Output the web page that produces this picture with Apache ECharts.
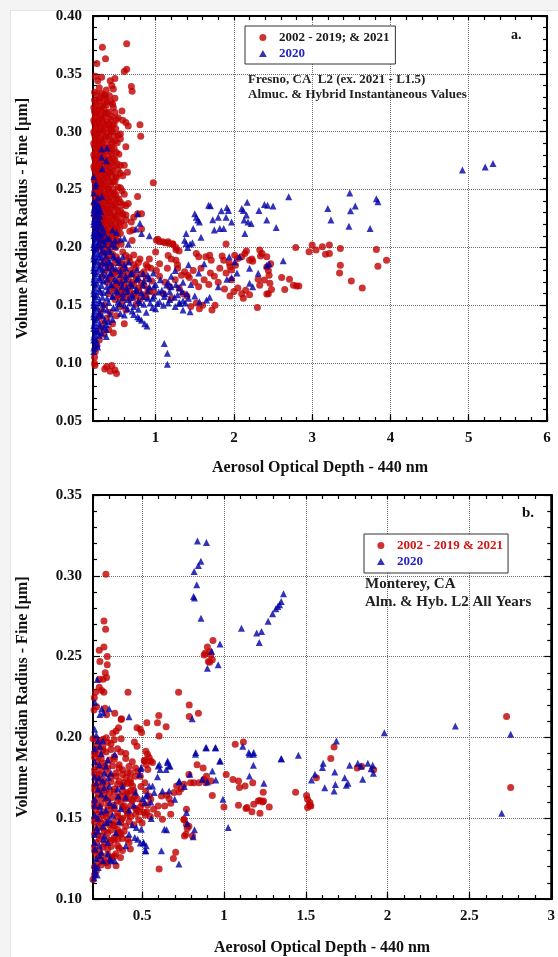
<!DOCTYPE html>
<html><head><meta charset="utf-8">
<script src="https://cdn.jsdelivr.net/npm/echarts@6/dist/echarts.min.js"></script>
<style>
html,body{margin:0;padding:0;background:#f4f4f4;width:558px;height:957px;overflow:hidden;}
#panel{position:absolute;left:10px;top:10px;width:548px;height:947px;background:#fff;border-left:1px solid #e4e4e4;border-top:1px solid #e4e4e4;}
#chart{position:absolute;left:0;top:0;width:558px;height:957px;}
</style></head><body><div id="panel"></div><div id="chart"></div>
<script>
// ---------- tick labels ----------
const fresnoXTicks = [1, 2, 3, 4, 5, 6];
const fresnoYTicks = [0.05, 0.10, 0.15, 0.20, 0.25, 0.30, 0.35, 0.40];
const montereyXTicks = [0.5, 1, 1.5, 2, 2.5, 3];
const montereyYTicks = [0.10, 0.15, 0.20, 0.25, 0.30, 0.35];

// ---------- series names ----------
const fresnoRedName = '2002 - 2019; & 2021';
const montereyRedName = '2002 - 2019 & 2021';
const blueName = '2020';

// ---------- Fresno (a.) 2002-2019 & 2021 ----------
const fresnoRed = [
[0.32,0.373],[0.63,0.376],[0.36,0.363],[0.25,0.359],[0.60,0.352],[0.63,0.354],[0.48,0.346],[0.26,0.344],[0.42,0.344],[0.44,0.340],[0.46,0.337],[0.69,0.339],[0.70,0.335],[0.23,0.348],[0.31,0.347],[0.28,0.338],[0.37,0.336],[0.34,0.332],[0.22,0.334],[0.41,0.331],[0.48,0.329],[0.29,0.329],[0.38,0.326],[0.45,0.324],[0.24,0.326],[0.33,0.323],[0.58,0.310],[0.62,0.308],[0.65,0.305],[0.80,0.306],[0.81,0.296],[0.55,0.294],[0.62,0.287],[0.60,0.271],[0.64,0.265],[0.97,0.256],[0.77,0.244],[0.57,0.318],[0.52,0.312],
[0.21,0.321],[0.27,0.319],[0.34,0.320],[0.40,0.317],
[0.23,0.315],[0.30,0.314],[0.36,0.316],[0.44,0.313],
[0.21,0.310],[0.26,0.309],[0.32,0.311],[0.39,0.308],[0.47,0.307],
[0.24,0.305],[0.29,0.304],[0.35,0.306],[0.42,0.303],
[0.21,0.300],[0.27,0.299],[0.33,0.301],[0.38,0.298],[0.45,0.300],[0.52,0.297],
[0.23,0.295],[0.30,0.294],[0.36,0.296],[0.41,0.293],[0.48,0.292],
[0.21,0.290],[0.26,0.289],[0.32,0.291],[0.38,0.288],[0.44,0.287],
[0.24,0.285],[0.29,0.284],[0.35,0.286],[0.42,0.283],[0.50,0.282],
[0.21,0.280],[0.27,0.279],[0.33,0.281],[0.39,0.278],[0.46,0.277],
[0.23,0.275],[0.30,0.274],[0.36,0.276],[0.43,0.273],[0.51,0.272],
[0.21,0.270],[0.26,0.269],[0.32,0.268],[0.38,0.270],[0.45,0.267],
[0.24,0.265],[0.29,0.264],[0.35,0.263],[0.41,0.265],[0.49,0.262],[0.55,0.264],
[0.22,0.260],[0.27,0.259],[0.33,0.258],[0.39,0.260],[0.46,0.257],
[0.25,0.255],[0.30,0.254],[0.36,0.253],[0.43,0.255],[0.52,0.252],
[0.23,0.250],[0.28,0.249],[0.34,0.248],[0.40,0.250],[0.47,0.247],[0.57,0.249],
[0.26,0.245],[0.31,0.244],[0.37,0.243],[0.44,0.245],[0.50,0.242],
[0.24,0.240],[0.29,0.239],[0.35,0.238],[0.41,0.240],[0.48,0.237],[0.55,0.239],[0.62,0.236],
[0.27,0.235],[0.32,0.234],[0.38,0.233],[0.45,0.235],[0.52,0.232],
[0.25,0.230],[0.30,0.229],[0.36,0.228],[0.42,0.230],[0.49,0.227],[0.58,0.229],
[0.28,0.225],[0.33,0.224],[0.39,0.223],[0.46,0.225],[0.53,0.222],
[0.26,0.220],[0.31,0.219],[0.37,0.218],[0.44,0.220],[0.51,0.217],[0.60,0.219],
[0.29,0.215],[0.35,0.214],[0.41,0.213],[0.48,0.215],[0.55,0.212],
[0.27,0.210],[0.33,0.209],[0.40,0.208],[0.47,0.210],
[0.30,0.205],[0.36,0.204],[0.43,0.203],[0.52,0.205],[0.70,0.206],
[0.28,0.200],[0.34,0.199],[0.41,0.198],[0.49,0.200],
[0.25,0.3325],[0.31,0.333],[0.36,0.331],
[0.22,0.3275],[0.28,0.327],[0.35,0.328],[0.43,0.326],
[0.24,0.3225],[0.30,0.322],[0.37,0.323],[0.46,0.321],
[0.22,0.3175],[0.25,0.317],[0.31,0.318],[0.38,0.316],[0.48,0.3165],
[0.23,0.3125],[0.29,0.312],[0.35,0.313],[0.42,0.311],[0.50,0.3105],
[0.22,0.3075],[0.27,0.307],[0.33,0.308],[0.40,0.306],[0.45,0.3055],
[0.23,0.3025],[0.30,0.302],[0.36,0.303],[0.43,0.301],[0.49,0.3025],
[0.22,0.2975],[0.25,0.297],[0.31,0.298],[0.40,0.296],[0.47,0.2965],[0.55,0.298],
[0.23,0.2925],[0.28,0.292],[0.34,0.293],[0.44,0.291],[0.51,0.2905],
[0.22,0.2875],[0.27,0.287],[0.31,0.288],[0.40,0.286],[0.47,0.2855],
[0.23,0.2825],[0.30,0.282],[0.36,0.283],[0.44,0.281],[0.53,0.2805],
[0.22,0.2775],[0.25,0.277],[0.31,0.278],[0.41,0.276],[0.48,0.2755],
[0.23,0.2725],[0.28,0.272],[0.34,0.273],[0.40,0.271],[0.47,0.2705],[0.55,0.271],
[0.22,0.2675],[0.27,0.267],[0.30,0.268],[0.37,0.266],[0.43,0.2655],[0.52,0.267],
[0.23,0.2625],[0.31,0.262],[0.37,0.261],[0.44,0.262],[0.50,0.2605],[0.58,0.262],
[0.22,0.2575],[0.25,0.257],[0.29,0.258],[0.34,0.256],[0.41,0.2565],[0.48,0.257],
[0.23,0.2525],[0.27,0.252],[0.32,0.253],[0.39,0.251],[0.46,0.2505],[0.55,0.2515],
[0.22,0.2475],[0.25,0.247],[0.30,0.248],[0.36,0.246],[0.42,0.2465],[0.49,0.246],[0.60,0.246],
[0.23,0.2425],[0.27,0.242],[0.33,0.243],[0.39,0.241],[0.46,0.2415],[0.53,0.242],
[0.22,0.2375],[0.26,0.237],[0.31,0.238],[0.37,0.236],[0.43,0.2365],[0.50,0.2365],[0.58,0.237],
[0.23,0.2325],[0.29,0.232],[0.34,0.233],[0.40,0.231],[0.47,0.2315],[0.55,0.232],
[0.22,0.2275],[0.26,0.227],[0.32,0.228],[0.38,0.226],[0.44,0.2265],[0.51,0.227],[0.62,0.228],
[0.24,0.2225],[0.30,0.222],[0.35,0.223],[0.42,0.221],[0.49,0.2215],[0.56,0.2225],
[0.23,0.2175],[0.28,0.217],[0.34,0.218],[0.40,0.216],[0.46,0.2165],[0.54,0.217],
[0.25,0.2125],[0.31,0.212],[0.38,0.211],[0.44,0.212],[0.51,0.2115],
[0.29,0.2075],[0.35,0.207],[0.42,0.206],[0.49,0.2075],
[0.32,0.2025],[0.39,0.201],[0.46,0.2025],[0.56,0.203],
[0.65,0.238],[0.58,0.228],[0.62,0.224],[0.69,0.222],[0.72,0.226],[0.77,0.229],[0.82,0.229],[0.67,0.214],[0.71,0.215],[0.82,0.216],
[1.03,0.207],[1.09,0.205],[1.16,0.205],[1.22,0.203],[1.26,0.200],[1.16,0.193],[1.20,0.190],[1.26,0.189],[1.28,0.185],[1.37,0.179],[1.33,0.176],[1.41,0.176],[0.92,0.190],[0.88,0.185],[0.94,0.182],[1.01,0.180],[1.05,0.186],
[0.33,0.195],[0.45,0.194],[0.58,0.196],
[0.38,0.190],[0.52,0.189],[0.66,0.191],[0.80,0.190],
[0.30,0.185],[0.43,0.184],[0.60,0.186],[0.72,0.185],
[0.36,0.180],[0.48,0.179],[0.55,0.181],[0.68,0.180],[0.85,0.179],
[0.32,0.175],[0.42,0.174],[0.62,0.176],[0.75,0.175],
[0.38,0.170],[0.50,0.169],[0.58,0.171],[0.70,0.170],[0.82,0.169],[0.95,0.171],
[0.45,0.165],[0.55,0.164],[0.65,0.166],[0.78,0.165],[0.90,0.164],
[0.40,0.160],[0.52,0.159],[0.62,0.161],[0.72,0.160],[0.85,0.159],[0.98,0.161],
[0.48,0.155],[0.58,0.154],[0.68,0.156],[0.80,0.155],
[0.40,0.1925],[0.50,0.192],[0.62,0.193],[0.72,0.1935],
[0.35,0.1875],[0.48,0.187],[0.55,0.1865],[0.67,0.188],[0.78,0.187],
[0.40,0.1825],[0.60,0.182],[0.75,0.1825],[0.90,0.183],
[0.45,0.1775],[0.52,0.177],[0.58,0.178],[0.70,0.1775],[0.82,0.177],
[0.44,0.1725],[0.54,0.172],[0.65,0.173],[0.76,0.1725],[0.88,0.1735],
[0.50,0.1675],[0.60,0.167],[0.72,0.168],[0.85,0.167],
[0.47,0.1625],[0.57,0.162],[0.67,0.163],[0.78,0.1625],[0.92,0.162],
[0.53,0.1575],[0.63,0.157],[0.75,0.158],[0.88,0.157],
[0.35,0.150],[0.55,0.149],[0.75,0.151],
[0.30,0.145],[0.42,0.144],[0.62,0.146],
[0.28,0.140],[0.38,0.139],[0.50,0.141],
[0.33,0.135],[0.45,0.134],[0.60,0.134],
[0.30,0.130],[0.40,0.129],
[0.34,0.125],[0.46,0.126],
[0.28,0.120],[0.25,0.115],[0.23,0.110],[0.22,0.105],
[0.22,0.100],[0.225,0.098],[0.375,0.097],[0.44,0.098],[0.48,0.094],[0.42,0.093],[0.50,0.091],[0.35,0.095],
[1.01,0.2063],[1.05,0.2048],[1.12,0.204],[1.17,0.2035],[1.22,0.203],[1.26,0.198],[1.30,0.197],[1.00,0.196],[1.90,0.203],
[2.79,0.200],[3.00,0.202],[3.05,0.1977],[2.96,0.1962],[3.13,0.2005],[3.22,0.202],[3.17,0.1942],[3.22,0.1948],[3.36,0.199],[3.82,0.1983],[3.95,0.189],[3.84,0.1838],[3.36,0.1847],[3.35,0.178],[3.50,0.171],[3.64,0.165],
[2.33,0.1977],[2.36,0.1948],[2.34,0.1925],[2.42,0.192],[2.16,0.197],[2.14,0.1948],[2.01,0.1933],[2.05,0.1905],[2.10,0.192],[1.69,0.1933],[1.71,0.189],[1.64,0.192],[1.52,0.1948],[1.55,0.192],[1.85,0.1925],[1.87,0.189],[1.94,0.1867],[1.95,0.1832],[1.97,0.1804],[2.02,0.1847],[2.20,0.189],[2.23,0.190],[2.24,0.188],[2.42,0.183],[2.44,0.180],[2.45,0.176],[2.47,0.186],
[2.61,0.174],[2.71,0.1724],[2.76,0.1674],[2.80,0.1666],[2.83,0.1666],[2.65,0.1637],[2.31,0.1724],[2.33,0.1674],[2.39,0.1718],[2.46,0.169],[2.48,0.1637],[2.44,0.160],[2.42,0.1597],[2.30,0.148],
[2.05,0.165],[2.10,0.160],[2.15,0.163],[2.20,0.159],[2.12,0.156],[2.00,0.162],[1.95,0.158],[1.88,0.164],
[1.90,0.178],[1.97,0.172],[1.80,0.170],[1.75,0.175],[1.68,0.168],[1.62,0.172],[1.55,0.166],[1.50,0.170],[1.43,0.174],[1.48,0.180],[1.58,0.182],[1.70,0.178],[1.82,0.182],
[1.52,0.152],[1.60,0.150],[1.72,0.146],[1.76,0.150],[1.56,0.147],[1.45,0.149],
[1.05,0.175],[1.12,0.170],[1.18,0.166],[1.25,0.172],[1.30,0.165],[1.35,0.160],[1.10,0.160],[1.20,0.156],[1.40,0.158],[1.28,0.182],[1.15,0.182]
];

// ---------- Fresno (a.) 2020 ----------
const fresnoBlue = [
[0.31,0.285],[0.38,0.286],[0.31,0.278],[0.37,0.275],[0.32,0.268],[0.21,0.261],[0.24,0.255],[0.23,0.253],[0.21,0.247],[0.26,0.243],[0.31,0.244],
[0.21,0.240],[0.25,0.238],
[0.22,0.235],[0.28,0.233],
[0.21,0.230],[0.25,0.229],[0.30,0.231],
[0.22,0.225],[0.27,0.224],
[0.21,0.220],[0.24,0.219],[0.29,0.221],
[0.22,0.215],[0.26,0.214],[0.33,0.216],
[0.21,0.210],[0.25,0.209],[0.30,0.211],[0.38,0.208],
[0.22,0.205],[0.27,0.204],[0.34,0.206],[0.44,0.203],
[0.21,0.200],[0.24,0.199],[0.30,0.201],[0.40,0.198],
[0.22,0.195],[0.27,0.194],[0.35,0.196],[0.46,0.193],
[0.21,0.190],[0.25,0.189],[0.31,0.191],[0.40,0.188],[0.52,0.190],
[0.22,0.185],[0.28,0.184],[0.36,0.186],[0.45,0.183],[0.60,0.185],
[0.21,0.180],[0.25,0.179],[0.32,0.181],[0.42,0.178],[0.55,0.180],[0.70,0.178],
[0.22,0.175],[0.28,0.174],[0.37,0.176],[0.48,0.173],[0.62,0.175],[0.78,0.174],[0.90,0.176],
[0.21,0.170],[0.25,0.169],[0.33,0.171],[0.43,0.168],[0.56,0.170],[0.68,0.169],[0.85,0.171],[1.00,0.168],
[0.22,0.165],[0.28,0.164],[0.38,0.166],[0.50,0.163],[0.63,0.165],[0.75,0.164],[0.92,0.166],[1.08,0.163],[1.20,0.166],
[0.21,0.160],[0.25,0.159],[0.33,0.161],[0.45,0.158],[0.58,0.160],[0.70,0.159],[0.82,0.161],[0.98,0.158],[1.12,0.160],[1.28,0.159],
[0.22,0.155],[0.28,0.154],[0.38,0.156],[0.52,0.153],[0.65,0.155],[0.78,0.154],[0.90,0.156],[1.05,0.153],[1.18,0.155],[1.35,0.154],
[0.21,0.150],[0.25,0.149],[0.33,0.151],[0.46,0.148],[0.60,0.150],[0.72,0.149],[0.85,0.151],[0.96,0.148],[1.10,0.150],[1.25,0.149],
[0.22,0.145],[0.28,0.144],[0.38,0.146],[0.55,0.143],[0.70,0.145],[0.88,0.144],
[0.21,0.140],[0.25,0.139],[0.32,0.141],[0.45,0.138],[0.77,0.140],
[0.22,0.135],[0.28,0.134],[0.40,0.136],[0.82,0.137],
[0.21,0.130],[0.25,0.129],[0.34,0.131],[0.86,0.134],
[0.22,0.125],[0.28,0.124],[0.89,0.132],
[0.21,0.120],[0.37,0.123],
[0.22,0.115],[0.26,0.114],
[0.21,0.110],[0.24,0.120],[0.31,0.126],[0.37,0.129],
[0.23,0.2375],[0.27,0.2365],
[0.21,0.2325],[0.26,0.232],
[0.23,0.2275],[0.29,0.227],
[0.21,0.2225],[0.26,0.222],
[0.23,0.2175],[0.29,0.2175],
[0.21,0.2125],[0.27,0.212],[0.34,0.2125],
[0.23,0.2075],[0.30,0.207],[0.41,0.2075],
[0.21,0.2025],[0.26,0.202],[0.35,0.2025],[0.48,0.201],
[0.23,0.1975],[0.31,0.197],[0.42,0.1965],
[0.21,0.1925],[0.28,0.192],[0.36,0.1925],[0.46,0.1915],[0.58,0.192],
[0.23,0.1875],[0.32,0.187],[0.42,0.1865],[0.53,0.187],[0.66,0.1875],
[0.21,0.1825],[0.28,0.182],[0.38,0.1825],[0.49,0.1815],[0.62,0.182],[0.76,0.181],
[0.23,0.1775],[0.32,0.177],[0.43,0.1775],[0.55,0.1765],[0.68,0.177],[0.84,0.1775],[0.97,0.178],
[0.21,0.1725],[0.29,0.172],[0.38,0.1725],[0.50,0.1715],[0.62,0.172],[0.76,0.1725],[0.92,0.173],[1.06,0.172],[1.16,0.170],
[0.23,0.1675],[0.31,0.167],[0.44,0.1675],[0.57,0.1665],[0.70,0.167],[0.84,0.1675],[0.98,0.1665],[1.14,0.1675],[1.26,0.168],
[0.21,0.1625],[0.29,0.162],[0.39,0.1625],[0.51,0.1615],[0.64,0.162],[0.76,0.1625],[0.90,0.1625],[1.04,0.1615],[1.18,0.162],[1.34,0.162],
[0.23,0.1575],[0.32,0.157],[0.45,0.1575],[0.58,0.1565],[0.71,0.157],[0.84,0.1575],[0.96,0.156],[1.11,0.1575],[1.24,0.157],[1.42,0.156],
[0.21,0.1525],[0.29,0.152],[0.40,0.1525],[0.54,0.1515],[0.67,0.152],[0.80,0.1525],[0.93,0.152],[1.02,0.1515],[1.16,0.152],[1.30,0.1525],
[0.23,0.1475],[0.33,0.147],[0.50,0.1475],[0.64,0.147],[0.78,0.1465],[1.0,0.147],
[0.21,0.1425],[0.29,0.142],[0.42,0.1425],[0.60,0.1415],[0.72,0.142],
[0.23,0.1375],[0.35,0.137],[0.79,0.1385],
[0.21,0.1325],[0.29,0.132],[0.37,0.1335],
[0.23,0.1275],[0.26,0.127],
[0.21,0.1225],[0.25,0.117],[0.21,0.113],
[1.11,0.117],[1.15,0.1085],[1.15,0.099],
[0.77,0.229],[0.80,0.221],[0.75,0.216],[0.82,0.212],[0.65,0.203],[0.92,0.210],[0.45,0.215],[0.50,0.213],[0.48,0.206],[0.55,0.207],[0.60,0.208],
[1.50,0.229],[1.52,0.226],[1.54,0.2236],[1.56,0.222],[1.73,0.224],[1.80,0.226],[1.90,0.226],[1.676,0.2365],[1.70,0.236],[1.91,0.2345],[1.93,0.232],[2.10,0.2337],[2.12,0.232],[2.17,0.239],[2.39,0.237],[2.43,0.2365],[2.50,0.2357],[2.32,0.232],[1.84,0.2316],[2.16,0.228],[2.13,0.2236],[2.18,0.222],[2.22,0.2207],[1.97,0.222],[2.42,0.2236],[2.54,0.2173],[1.75,0.215],[1.82,0.2164],[1.87,0.2164],[2.14,0.212],[1.39,0.212],[1.48,0.2164],[1.58,0.2087],[1.37,0.2063],[1.39,0.2035],[1.44,0.203],[1.47,0.204],[1.41,0.200],[2.70,0.2437],
[3.48,0.247],[3.20,0.2337],[3.55,0.2357],[3.84,0.2394],[3.49,0.2316],[3.24,0.2236],[3.47,0.2184],[3.74,0.2164],[3.82,0.242],[4.92,0.267],[5.21,0.2696],[5.31,0.2725],
[2.63,0.1884],[1.94,0.192],[2.07,0.192],[2.01,0.1876],[2.20,0.182],[2.31,0.1776],[2.42,0.1847],[2.45,0.1856],[2.04,0.178],[1.97,0.174],[1.91,0.1724],[2.20,0.169],[2.24,0.166],[1.80,0.166],[1.69,0.157],[1.65,0.1545],[1.56,0.153],[1.44,0.1444],[1.35,0.1459],[1.31,0.1516],[1.30,0.165],[1.35,0.170],[1.40,0.160],[1.45,0.168],[1.50,0.158],[1.38,0.152],[1.25,0.180],[1.20,0.175],[1.42,0.185],[1.55,0.178],[1.62,0.186]
];

// ---------- Monterey (b.) 2002-2019 & 2021 ----------
const montereyRed = [
[0.279,0.301],[0.267,0.272],[0.277,0.267],[0.238,0.254],[0.267,0.256],[0.287,0.250],[0.287,0.245],[0.242,0.247],[0.275,0.240],[0.283,0.237],[0.262,0.236],[0.238,0.236],[0.238,0.231],[0.253,0.229],[0.267,0.228],[0.216,0.228],[0.208,0.2245],[0.222,0.219],[0.206,0.217],[0.273,0.218],[0.283,0.214],[0.333,0.215],[0.374,0.2115],[0.414,0.228],[0.723,0.228],[0.788,0.220],[0.602,0.2136],[0.788,0.213],[0.844,0.215],
[0.885,0.252],[0.899,0.256],[0.913,0.253],[0.929,0.248],[0.919,0.251],[0.933,0.260],[0.879,0.251],[0.905,0.247],[0.913,0.2465],
[0.594,0.209],[0.529,0.209],[0.647,0.2066],[0.604,0.2008],[0.469,0.206],[0.489,0.205],[0.497,0.203],
[0.372,0.2111],[0.356,0.206],[0.341,0.2039],[0.321,0.2025],[0.281,0.1998],[0.261,0.1988],[0.20,0.1992],[0.22,0.1988],[0.372,0.1992],[0.453,0.1971],[0.469,0.1946],
[1.069,0.1957],[1.119,0.1971],[0.836,0.183],[0.873,0.181],[0.893,0.176],[0.921,0.173],[0.877,0.174],[0.796,0.172],[0.816,0.172],[0.786,0.177],
[1.014,0.177],[1.055,0.174],[1.089,0.173],[1.095,0.169],[1.129,0.170],[1.176,0.172],[1.24,0.166],[1.22,0.161],[1.21,0.1607],[1.236,0.160],[1.277,0.157],[1.22,0.153],[1.171,0.154],[1.135,0.156],[1.089,0.158],[1.0,0.157],[1.141,0.1566],[1.182,0.1586],[1.242,0.1607],
[0.771,0.1556],[0.756,0.149],[0.771,0.146],[0.786,0.145],[0.776,0.1436],[0.759,0.139],[0.705,0.129],[0.691,0.125],[0.604,0.1185],[0.808,0.139],[0.768,0.140],
[0.515,0.1858],[0.525,0.1833],[0.535,0.1802],
[0.523,0.1915],[0.533,0.1895],[0.543,0.1875],[0.553,0.1854],[0.564,0.1844],[0.513,0.1854],[0.473,0.179],[0.489,0.176],[0.517,0.172],[0.493,0.1696],[0.523,0.1668],[0.543,0.1638],[0.553,0.1617],
[0.618,0.1638],[0.65,0.1642],[0.665,0.1622],[0.695,0.1659],[0.739,0.1683],[0.711,0.1699],[0.756,0.171],[0.725,0.1662],[0.675,0.1593],[0.638,0.1576],[0.598,0.1576],
[0.533,0.1582],[0.57,0.1556],[0.513,0.1535],[0.483,0.1539],[0.469,0.1551],
[0.594,0.1525],[0.624,0.1494],[0.675,0.1525],[0.756,0.1494],
[0.412,0.1782],[0.428,0.1741],[0.442,0.170],[0.388,0.172],[0.408,0.1659],[0.372,0.1638],[0.432,0.1617],[0.453,0.1638],
[0.392,0.1576],[0.412,0.1535],[0.372,0.1494],[0.331,0.1453],[0.362,0.1412],[0.352,0.137],[0.412,0.137],[0.428,0.1309],[0.368,0.1257],[0.311,0.1247],[0.341,0.1206],[0.291,0.1206],
[0.848,0.172],[0.889,0.172],[0.929,0.164],
[1.673,0.194],[1.653,0.187],[1.438,0.166],[1.505,0.164],[1.511,0.1617],[1.525,0.1597],[1.531,0.1576],[1.511,0.1566],[1.525,0.158],[1.565,0.175],[1.814,0.181],[1.842,0.182],[1.915,0.180],[2.727,0.213],[2.752,0.169],
[0.22,0.195],[0.26,0.194],[0.31,0.196],[0.35,0.193],
[0.21,0.190],[0.24,0.189],[0.28,0.191],[0.33,0.188],[0.40,0.190],
[0.23,0.185],[0.27,0.184],[0.30,0.186],[0.36,0.183],[0.44,0.185],
[0.21,0.180],[0.25,0.179],[0.29,0.181],[0.34,0.178],[0.38,0.180],[0.42,0.182],
[0.22,0.175],[0.26,0.174],[0.31,0.176],[0.36,0.173],[0.40,0.175],[0.46,0.176],
[0.21,0.170],[0.24,0.169],[0.28,0.171],[0.33,0.168],[0.38,0.170],[0.43,0.172],
[0.23,0.165],[0.27,0.164],[0.30,0.166],[0.35,0.163],[0.41,0.165],[0.45,0.167],
[0.21,0.160],[0.25,0.159],[0.29,0.161],[0.33,0.158],[0.37,0.160],[0.44,0.161],[0.50,0.159],
[0.22,0.155],[0.27,0.154],[0.31,0.156],[0.35,0.153],[0.40,0.155],[0.46,0.156],[0.53,0.154],
[0.21,0.150],[0.24,0.149],[0.28,0.151],[0.33,0.148],[0.38,0.150],[0.43,0.151],[0.48,0.149],[0.55,0.151],
[0.23,0.145],[0.26,0.144],[0.30,0.146],[0.35,0.143],[0.40,0.145],[0.45,0.146],
[0.21,0.140],[0.25,0.139],[0.29,0.141],[0.33,0.138],[0.37,0.140],
[0.22,0.135],[0.27,0.134],[0.31,0.136],[0.35,0.133],[0.42,0.135],
[0.21,0.130],[0.24,0.129],[0.29,0.131],[0.34,0.128],[0.38,0.130],
[0.23,0.125],[0.27,0.124],[0.31,0.126],
[0.21,0.120],[0.25,0.121],
[0.21,0.115],[0.20,0.112],
[0.24,0.1975],[0.29,0.197],[0.33,0.1985],
[0.22,0.1925],[0.26,0.192],[0.31,0.1925],[0.37,0.191],
[0.21,0.1875],[0.25,0.187],[0.33,0.1865],[0.40,0.187],
[0.23,0.1825],[0.27,0.182],[0.32,0.1825],[0.36,0.181],[0.46,0.181],
[0.21,0.1775],[0.24,0.177],[0.29,0.1775],[0.34,0.176],[0.38,0.177],[0.43,0.178],
[0.23,0.1725],[0.26,0.172],[0.31,0.1725],[0.35,0.171],[0.41,0.1715],
[0.21,0.1675],[0.25,0.167],[0.28,0.1675],[0.33,0.166],[0.38,0.1665],[0.43,0.167],
[0.23,0.1625],[0.27,0.162],[0.31,0.1625],[0.35,0.161],[0.40,0.162],[0.47,0.162],
[0.21,0.1575],[0.24,0.157],[0.29,0.1575],[0.33,0.156],[0.38,0.157],[0.43,0.1575],[0.49,0.157],
[0.23,0.1525],[0.26,0.152],[0.30,0.1525],[0.35,0.151],[0.41,0.152],[0.46,0.1525],[0.52,0.152],
[0.21,0.1475],[0.25,0.147],[0.28,0.1475],[0.32,0.146],[0.37,0.147],[0.42,0.148],[0.50,0.147],
[0.22,0.1425],[0.27,0.142],[0.31,0.1425],[0.35,0.141],[0.39,0.142],
[0.24,0.1375],[0.29,0.137],[0.33,0.1365],[0.38,0.1375],
[0.21,0.1325],[0.26,0.132],[0.31,0.1325],[0.36,0.1315],
[0.22,0.1275],[0.25,0.127],[0.29,0.1275],[0.33,0.1265],
[0.23,0.1225],[0.28,0.1225],
[0.22,0.1175]
];

// ---------- Monterey (b.) 2020 ----------
const montereyBlue = [
[0.838,0.3216],[0.893,0.3206],[0.859,0.309],[0.844,0.3064],[0.818,0.3027],[0.834,0.2944],[0.814,0.2872],[0.82,0.2862],[0.86,0.2737],[0.976,0.2578],[0.925,0.2533],[0.899,0.2428],[0.965,0.2449],[1.107,0.2676],[1.20,0.2646],[1.23,0.2656],[1.216,0.2588],[1.27,0.2718],[1.297,0.2765],[1.317,0.2796],[1.329,0.281],[1.364,0.2889],[1.35,0.2841],[1.34,0.2821],
[0.226,0.2358],[0.212,0.2218],[0.253,0.2177],[0.263,0.2152],[0.299,0.2177],[0.242,0.2142],[0.42,0.2128],[0.806,0.2115],
[0.893,0.1936],[0.947,0.1936],[0.826,0.1895],[0.978,0.1854],[1.156,0.1895],[1.18,0.1895],[1.18,0.1827],[1.156,0.1761],[1.244,0.1716],[1.351,0.1868],
[1.115,0.1946],[1.152,0.1906],[1.182,0.1906],[1.026,0.1443],[0.994,0.1617],
[0.792,0.1772],[0.725,0.1724],[0.699,0.1617],[0.665,0.1668],[0.624,0.1668],[0.665,0.1823],[0.655,0.1844],[0.598,0.1823],[0.61,0.1802],[0.594,0.1757],[0.493,0.1806],[0.543,0.170],[0.533,0.1648],[0.523,0.1638],[0.503,0.1622],[0.517,0.1597],[0.553,0.1601],[0.564,0.170],[0.574,0.1659],[0.65,0.1428],[0.771,0.1535],[0.776,0.1467],[0.82,0.1428],[0.812,0.1385],[0.725,0.1216],[0.618,0.1298],[0.523,0.1298],[0.473,0.137],[0.489,0.1346],[0.509,0.1346],[0.261,0.1236],[0.311,0.1236],[0.21,0.1154],[0.226,0.1148],[0.206,0.113],[0.212,0.118],
[0.495,0.1815],[0.485,0.1772],[0.606,0.1833],[0.647,0.1802],[0.671,0.1823],[0.656,0.1854],
[0.727,0.173],[0.758,0.1696],[0.828,0.1906],[0.889,0.1936],[0.95,0.1936],[0.974,0.1854],[0.929,0.1792],[0.95,0.1736],[0.899,0.1724],[0.868,0.1741],
[0.509,0.135],[0.525,0.1329],[0.519,0.1298],[0.455,0.138],[0.465,0.1442],[0.495,0.1432],[0.556,0.1498],[0.636,0.1432],
[0.242,0.1946],[0.279,0.1823],[0.333,0.1895],[0.238,0.1751],[0.293,0.1751],[0.267,0.1689],[0.212,0.1617],[0.242,0.1576],[0.303,0.1597],[0.354,0.1638],[0.283,0.1473],[0.222,0.1442],[0.263,0.137],[0.212,0.1309],[0.242,0.1267],[0.303,0.1247],[0.333,0.1236],[0.232,0.1195],
[0.21,0.205],[0.23,0.198],[0.25,0.190],[0.21,0.185],[0.27,0.178],[0.22,0.172],[0.30,0.170],[0.25,0.165],[0.21,0.158],[0.28,0.155],[0.23,0.150],[0.32,0.152],[0.26,0.145],[0.21,0.140],[0.29,0.135],[0.24,0.133],[0.36,0.148],[0.38,0.170],[0.40,0.163],[0.42,0.155],[0.44,0.146],[0.42,0.140],[0.40,0.133],[0.45,0.158],[0.46,0.166],
[0.22,0.2015],[0.26,0.198],[0.21,0.193],[0.29,0.186],[0.24,0.183],[0.21,0.176],[0.26,0.173],[0.23,0.168],[0.28,0.163],[0.21,0.152],[0.25,0.154],[0.30,0.149],[0.23,0.142],[0.27,0.139],[0.21,0.135],[0.25,0.129],[0.22,0.125],[0.29,0.128],[0.21,0.121],[0.33,0.158],[0.35,0.168],[0.31,0.178],[0.37,0.156],[0.34,0.141],
[1.35,0.1868],[1.455,0.1889],[1.687,0.1977],[1.98,0.2029],[2.414,0.207],[2.752,0.2019],[2.697,0.1531],[1.606,0.184],[1.602,0.1813],[1.677,0.1786],[1.768,0.1827],[1.818,0.184],[1.838,0.1823],[1.879,0.184],[1.909,0.1827],[1.899,0.1806],[1.913,0.1778],[1.848,0.1741],[1.535,0.1736],[1.556,0.1772],[1.616,0.1689],[1.673,0.1668],[1.681,0.1708],[1.738,0.1751],[1.748,0.1704],[1.758,0.1716]
];

// ---------- styling ----------
const FONT = '"Liberation Serif", "Times New Roman", serif';
const RED = '#c00000';
const BLUE = '#0000a8';
const BLACK = '#111';
const TRI_ICON = 'path://M5,0 L10,9 L0,9 Z';
const gridLineStyle = { color: '#6e6e6e', type: [1, 1], width: 1 };

function isTick(list, v) { return list.some(t => Math.abs(t - v) < 1e-6); }

function xAxesFor(gridIndex, ticks, step, nameGap) {
  const min = 0.2, max = ticks[ticks.length - 1];
  return [
    { gridIndex, type: 'value', position: 'bottom', min, max, interval: step,
      axisLine: { show: true, lineStyle: { color: '#000', width: 2 } },
      axisTick: { show: true, inside: true, length: 4, lineStyle: { color: '#000', width: 1.2 } },
      axisLabel: { show: true, margin: 10, color: BLACK, fontFamily: FONT, fontWeight: 'bold', fontSize: 15,
        formatter: v => isTick(ticks, v) ? String(+v.toFixed(1)) : '' },
      splitLine: { show: false },
      name: 'Aerosol Optical Depth - 440 nm', nameLocation: 'middle', nameGap,
      nameTextStyle: { color: BLACK, fontFamily: FONT, fontWeight: 'bold', fontSize: 16 } },
    { gridIndex, type: 'value', position: 'bottom', min, max,
      axisLine: { show: false },
      axisTick: { show: true, inside: true, length: 7, customValues: ticks, lineStyle: { color: '#000', width: 1.2 } },
      axisLabel: { show: false, customValues: ticks },
      splitLine: { show: true, lineStyle: gridLineStyle } },
    { gridIndex, type: 'value', position: 'top', min, max, interval: step,
      axisLine: { show: true, lineStyle: { color: '#000', width: 2 } },
      axisTick: { show: true, inside: true, length: 4, lineStyle: { color: '#000', width: 1.2 } },
      axisLabel: { show: false }, splitLine: { show: false } }
  ];
}

function yAxesFor(gridIndex, ticks, nameGap) {
  const min = ticks[0], max = ticks[ticks.length - 1], interval = +(ticks[1] - ticks[0]).toFixed(2);
  const common = { gridIndex, type: 'value', min, max, interval,
    axisLine: { show: true, lineStyle: { color: '#000', width: 2 } },
    axisTick: { show: true, inside: true, length: 7, lineStyle: { color: '#000', width: 1.2 } },
    minorTick: { show: true, splitNumber: 5, length: 4, lineStyle: { color: '#000', width: 1.2 } } };
  return [
    Object.assign({}, common, { position: 'left',
      axisLabel: { show: true, margin: 11, color: BLACK, fontFamily: FONT, fontWeight: 'bold', fontSize: 15,
        formatter: v => v.toFixed(2) },
      splitLine: { show: true, lineStyle: gridLineStyle },
      name: 'Volume Median Radius - Fine [\u00b5m]', nameLocation: 'middle', nameGap, nameRotate: 90,
      nameTextStyle: { color: BLACK, fontFamily: FONT, fontWeight: 'bold', fontSize: 16 } }),
    Object.assign({}, common, { position: 'right', axisLabel: { show: false }, splitLine: { show: false } })
  ];
}

const chart = echarts.init(document.getElementById('chart'), null, { renderer: 'canvas' });
chart.setOption({
  animation: false,
  backgroundColor: 'transparent',
  grid: [
    { left: 93, top: 16, width: 454, height: 405, show: true, borderColor: '#000', borderWidth: 2, backgroundColor: '#fff' },
    { left: 93, top: 495, width: 462, height: 405, show: true, borderColor: '#000', borderWidth: 2, backgroundColor: '#fff' }
  ],
  xAxis: [].concat(xAxesFor(0, fresnoXTicks, 0.2, 39), xAxesFor(1, montereyXTicks, 0.1, 41)),
  yAxis: [].concat(yAxesFor(0, fresnoYTicks, 62), yAxesFor(1, montereyYTicks, 62)),
  legend: [
    { orient: 'vertical', left: 245, top: 26, padding: [5, 6, 4, 14], itemWidth: 22, itemHeight: 7, itemGap: 3,
      symbolKeepAspect: true,
      borderColor: '#333', borderWidth: 1, backgroundColor: '#fff', selectedMode: false,
      textStyle: { fontFamily: FONT, fontWeight: 'bold', fontSize: 13 },
      data: [ { name: fresnoRedName, icon: 'circle', textStyle: { color: '#1a1a1a' } },
              { name: blueName, icon: TRI_ICON, textStyle: { color: '#2424c8' } } ] },
    { orient: 'vertical', left: 364, top: 534, padding: [5, 5, 5, 13], itemWidth: 22, itemHeight: 7, itemGap: 3,
      symbolKeepAspect: true,
      borderColor: '#333', borderWidth: 1, backgroundColor: '#fff', selectedMode: false,
      textStyle: { fontFamily: FONT, fontWeight: 'bold', fontSize: 13 },
      data: [ { name: montereyRedName, icon: 'circle', textStyle: { color: '#d41414' } },
              { name: blueName, icon: TRI_ICON, textStyle: { color: '#2424c8' } } ] }
  ],
  graphic: [
    { type: 'text', left: 248, top: 72, z: 100,
      style: { text: 'Fresno, CA  L2 (ex. 2021 - L1.5)\nAlmuc. & Hybrid Instantaneous Values', fill: '#222',
        fontFamily: FONT, fontWeight: 'bold', fontSize: 13, lineHeight: 15 } },
    { type: 'text', left: 511, top: 28, z: 100,
      style: { text: 'a.', fill: '#111', fontFamily: FONT, fontWeight: 'bold', fontSize: 14 } },
    { type: 'text', left: 365, top: 575, z: 100,
      style: { text: 'Monterey, CA\nAlm. & Hyb. L2 All Years', fill: '#222',
        fontFamily: FONT, fontWeight: 'bold', fontSize: 15, lineHeight: 18 } },
    { type: 'text', left: 522, top: 506, z: 100,
      style: { text: 'b.', fill: '#111', fontFamily: FONT, fontWeight: 'bold', fontSize: 15 } }
  ],
  series: [
    { type: 'scatter', name: fresnoRedName, xAxisIndex: 0, yAxisIndex: 0, data: fresnoRed,
      symbol: 'circle', symbolSize: 7, itemStyle: { color: RED }, silent: true },
    { type: 'scatter', name: blueName, xAxisIndex: 0, yAxisIndex: 0, data: fresnoBlue,
      symbol: 'triangle', symbolSize: 7, itemStyle: { color: BLUE }, silent: true },
    { type: 'scatter', name: montereyRedName, xAxisIndex: 3, yAxisIndex: 2, data: montereyRed,
      symbol: 'circle', symbolSize: 7, itemStyle: { color: RED }, silent: true },
    { type: 'scatter', name: blueName, xAxisIndex: 3, yAxisIndex: 2, data: montereyBlue,
      symbol: 'triangle', symbolSize: 7, itemStyle: { color: BLUE }, silent: true }
  ]
});
</script></body></html>
